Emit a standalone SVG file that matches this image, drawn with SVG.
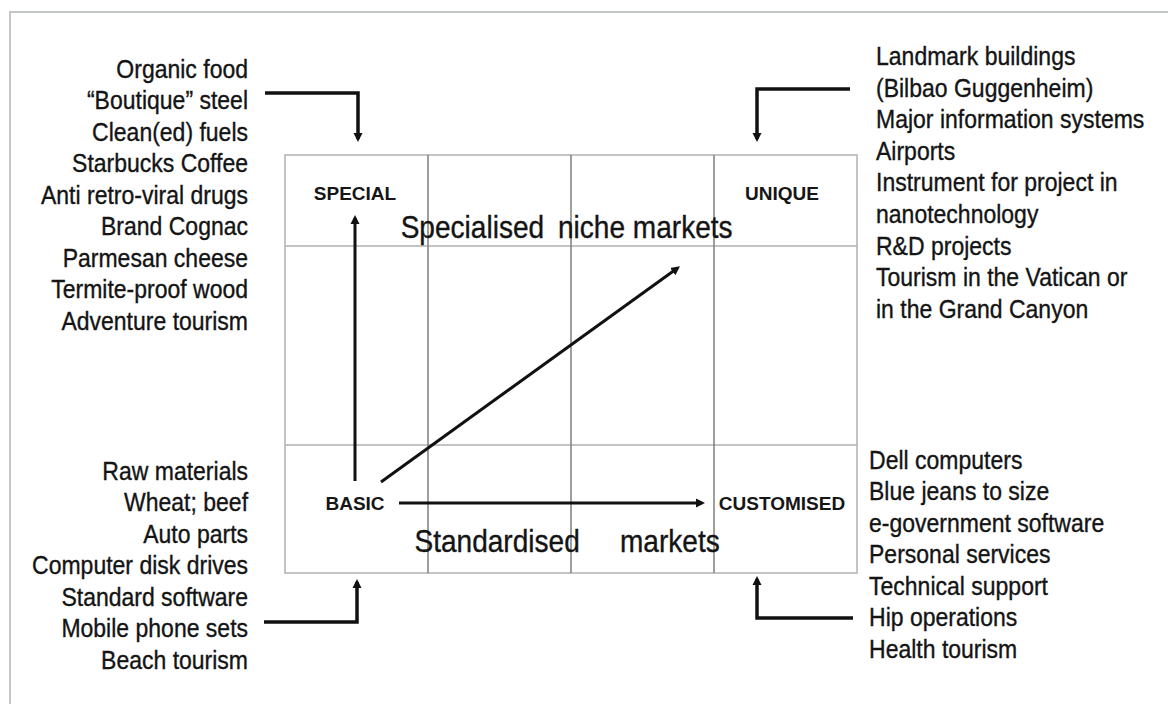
<svg xmlns="http://www.w3.org/2000/svg" width="1168" height="704" viewBox="0 0 1168 704">
  <style>
    .frame { stroke: #c4c8c4; stroke-width: 2; fill: none; }
    .grid { stroke: #7e807e; stroke-width: 1.5; fill: none; }
    .gridh { stroke: #b0b2b0; stroke-width: 1.5; fill: none; }
    .list { font-family: "Liberation Sans", Arial, sans-serif; font-size: 25px; fill: #141414; stroke: #141414; stroke-width: 0.35; }
    .big { font-family: "Liberation Sans", Arial, sans-serif; font-size: 30.5px; fill: #141414; stroke: #141414; stroke-width: 0.35; }
    .tag { font-family: "Liberation Sans", Arial, sans-serif; font-size: 19px; font-weight: bold; fill: #161616; text-anchor: middle; }
    .conn { stroke: #111; stroke-width: 3.5; fill: none; }
    .inner { stroke: #111; stroke-width: 3; fill: none; }
  </style>
  <defs>
    <marker id="ah" viewBox="0 0 10 10" refX="6.7" refY="5" markerWidth="9" markerHeight="11" markerUnits="userSpaceOnUse" orient="auto">
      <path d="M0,0 L10,5 L0,10 z" fill="#111"/>
    </marker>
  </defs>

  <rect width="1168" height="704" fill="#ffffff"/>

  <!-- page frame -->
  <path class="frame" d="M10,704 V12 H1168"/>

  <!-- 4 x 3 matrix -->
  <g id="matrix">
    <rect class="gridh" x="285" y="155" width="572" height="418"/>
    <path class="gridh" d="M285,246 H857 M285,445 H857"/>
    <path class="grid" d="M428,155 V573 M571,155 V573 M714,155 V573"/>
  </g>

  <!-- quadrant tags -->
  <g id="special"><text class="tag" x="355" y="200">SPECIAL</text></g>
  <g id="unique"><text class="tag" x="782" y="200">UNIQUE</text></g>
  <g id="basic"><text class="tag" x="355" y="510">BASIC</text></g>
  <g id="customised"><text class="tag" x="782" y="510">CUSTOMISED</text></g>

  <!-- market band captions (slightly condensed face) -->
  <g id="niche-markets" transform="scale(0.92,1)">
    <text class="big" x="435.5" y="238">Specialised</text>
    <text class="big" x="606.5" y="238">niche markets</text>
  </g>
  <g id="standard-markets" transform="scale(0.92,1)">
    <text class="big" x="450.5" y="552">Standardised</text>
    <text class="big" x="673.9" y="552">markets</text>
  </g>

  <!-- example lists -->
  <g id="special-examples" transform="scale(0.92,1)">
    <text class="list" text-anchor="end" x="269.6" y="78">Organic food</text>
    <text class="list" text-anchor="end" x="269.6" y="109.5">“Boutique” steel</text>
    <text class="list" text-anchor="end" x="269.6" y="141">Clean(ed) fuels</text>
    <text class="list" text-anchor="end" x="269.6" y="172.5">Starbucks Coffee</text>
    <text class="list" text-anchor="end" x="269.6" y="204">Anti retro-viral drugs</text>
    <text class="list" text-anchor="end" x="269.6" y="235.5">Brand Cognac</text>
    <text class="list" text-anchor="end" x="269.6" y="267">Parmesan cheese</text>
    <text class="list" text-anchor="end" x="269.6" y="298.5">Termite-proof wood</text>
    <text class="list" text-anchor="end" x="269.6" y="330">Adventure tourism</text>
  </g>

  <g id="basic-examples" transform="scale(0.92,1)">
    <text class="list" text-anchor="end" x="269.6" y="480">Raw materials</text>
    <text class="list" text-anchor="end" x="269.6" y="511.5">Wheat; beef</text>
    <text class="list" text-anchor="end" x="269.6" y="543">Auto parts</text>
    <text class="list" text-anchor="end" x="269.6" y="574.5">Computer disk drives</text>
    <text class="list" text-anchor="end" x="269.6" y="606">Standard software</text>
    <text class="list" text-anchor="end" x="269.6" y="637.5">Mobile phone sets</text>
    <text class="list" text-anchor="end" x="269.6" y="669">Beach tourism</text>
  </g>

  <g id="unique-examples" transform="scale(0.92,1)">
    <text class="list" x="952.2" y="65">Landmark buildings</text>
    <text class="list" x="952.2" y="96.6">(Bilbao Guggenheim)</text>
    <text class="list" x="952.2" y="128.2">Major information systems</text>
    <text class="list" x="952.2" y="159.8">Airports</text>
    <text class="list" x="952.2" y="191.4">Instrument for project in</text>
    <text class="list" x="952.2" y="223">nanotechnology</text>
    <text class="list" x="952.2" y="254.6">R&amp;D projects</text>
    <text class="list" x="952.2" y="286.2">Tourism in the Vatican or</text>
    <text class="list" x="952.2" y="317.8">in the Grand Canyon</text>
  </g>

  <g id="customised-examples" transform="scale(0.92,1)">
    <text class="list" x="944.6" y="469">Dell computers</text>
    <text class="list" x="944.6" y="500.5">Blue jeans to size</text>
    <text class="list" x="944.6" y="532">e-government software</text>
    <text class="list" x="944.6" y="563.5">Personal services</text>
    <text class="list" x="944.6" y="595">Technical support</text>
    <text class="list" x="944.6" y="626.5">Hip operations</text>
    <text class="list" x="944.6" y="658">Health tourism</text>
  </g>

  <!-- connectors -->
  <g id="connectors">
    <path class="conn" d="M265,93 H358 V139" marker-end="url(#ah)"/>
    <path class="conn" d="M850,89 H757 V139" marker-end="url(#ah)"/>
    <path class="conn" d="M264,622 H357 V582" marker-end="url(#ah)"/>
    <path class="conn" d="M853,618 H757 V579" marker-end="url(#ah)"/>
    <path class="inner" d="M355,481 V218" marker-end="url(#ah)"/>
    <path class="inner" d="M381,482 L677.6,268" marker-end="url(#ah)"/>
    <path class="inner" d="M399,503 H702" marker-end="url(#ah)"/>
  </g>
</svg>
